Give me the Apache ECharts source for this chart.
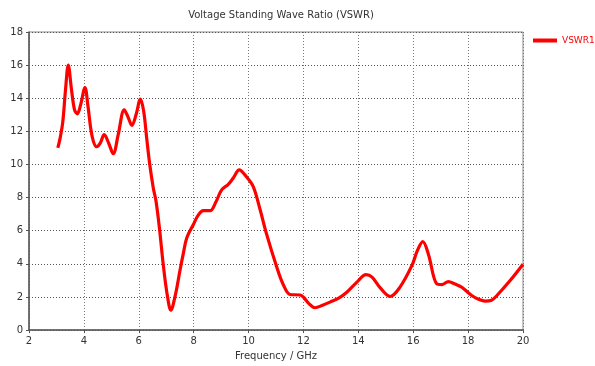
<!DOCTYPE html>
<html>
<head>
<meta charset="utf-8">
<script src="https://cdn.jsdelivr.net/npm/echarts@6/dist/echarts.min.js"></script>
<style>
  html, body { margin: 0; padding: 0; background: #fff; }
  #chart { width: 595px; height: 366px; }
</style>
</head>
<body>
<div id="chart"></div>
<script>
// Frequency sweep (GHz) and measured VSWR
const freqGHz = [
  3.05, 3.13, 3.23, 3.33, 3.43, 3.55, 3.66, 3.76, 3.88, 4.04, 4.15, 4.3, 4.47, 4.6, 4.74, 4.9, 5.07,
  5.25, 5.47, 5.6, 5.75, 5.9, 6.06, 6.18, 6.29, 6.4, 6.53, 6.63, 6.75, 6.89, 7.03, 7.17, 7.33, 7.5,
  7.62, 7.75, 7.99, 8.15, 8.35, 8.6, 8.8, 9.02, 9.26, 9.45, 9.66, 9.9, 10.17, 10.4, 10.66, 11.03,
  11.25, 11.51, 11.88, 12.0, 12.2, 12.42, 12.7, 12.97, 13.3, 13.58, 13.95, 14.28, 14.5, 14.8, 15.16,
  15.5, 15.95, 16.15, 16.35, 16.55, 16.86, 17.05, 17.28, 17.5, 17.77, 18.13, 18.4, 18.62, 18.85,
  19.05, 19.53, 20.0
];
const vswr = [
  11.0, 11.56, 12.56, 14.5, 16.0, 14.5, 13.3, 13.06, 13.6, 14.65, 13.5, 11.7, 11.07, 11.3, 11.8, 11.3, 10.65,
  11.8, 13.3, 12.9, 12.36, 13.0, 13.95, 13.2, 11.56, 10.0, 8.57, 7.77, 6.2, 3.98, 2.2, 1.2, 2.1, 3.59,
  4.6, 5.58, 6.38, 6.9, 7.21, 7.21, 7.7, 8.47, 8.8, 9.2, 9.67, 9.3, 8.67, 7.4, 5.78, 3.79,
  2.8, 2.15, 2.12, 1.99, 1.6, 1.35, 1.5, 1.69, 1.95, 2.29, 2.9, 3.35, 3.2, 2.55, 2.03,
  2.55, 3.89, 4.8, 5.34, 4.6, 2.79, 2.75, 2.93, 2.8, 2.59, 2.09, 1.85, 1.75, 1.8,
  2.09, 2.99, 3.98
];
const xTicks = [2, 4, 6, 8, 10, 12, 14, 16, 18, 20];
const yTicks = [0, 2, 4, 6, 8, 10, 12, 14, 16, 18];

const points = freqGHz.map((f, i) => [f, vswr[i]]);
const labelFont = 'Verdana, "DejaVu Sans", sans-serif';

const chart = echarts.init(document.getElementById('chart'), null, { renderer: 'canvas' });
chart.setOption({
  animation: false,
  backgroundColor: '#ffffff',
  title: {
    text: 'Voltage Standing Wave Ratio (VSWR)',
    left: 276, top: 5, textAlign: 'center',
    textStyle: { fontFamily: labelFont, fontSize: 10, fontWeight: 'normal', color: '#333' }
  },
  legend: {
    left: 533, top: 36, padding: 0, itemWidth: 24, itemHeight: 4, itemGap: 4,
    icon: 'rect',
    data: ['VSWR1'],
    textStyle: { fontFamily: labelFont, fontSize: 9, color: '#ff0000', width: 40, overflow: 'none' }
  },
  grid: {
    left: 29, right: 72, top: 32, bottom: 33,
    show: true, borderColor: '#888', borderWidth: 1
  },
  xAxis: {
    type: 'value', min: xTicks[0], max: xTicks[xTicks.length - 1], interval: 2,
    name: 'Frequency / GHz', nameLocation: 'middle', nameGap: 20,
    nameTextStyle: { fontFamily: labelFont, fontSize: 10, color: '#333' },
    axisLine: { lineStyle: { color: '#555', width: 1.5 } },
    axisTick: { show: true, length: 3, lineStyle: { color: '#555' } },
    axisLabel: { fontFamily: labelFont, fontSize: 10, color: '#333', margin: 6 },
    splitLine: { lineStyle: { type: [1, 2], color: '#777', width: 1 } }
  },
  yAxis: {
    type: 'value', min: yTicks[0], max: yTicks[yTicks.length - 1], interval: 2,
    axisLine: { show: true, lineStyle: { color: '#555', width: 1.5 } },
    axisTick: { show: true, length: 3, lineStyle: { color: '#555' } },
    axisLabel: { fontFamily: labelFont, fontSize: 10, color: '#333', margin: 6 },
    splitLine: { lineStyle: { type: [1, 2], color: '#555', width: 1 } }
  },
  series: [{
    name: 'VSWR1',
    type: 'line',
    data: points,
    smooth: 0.35,
    showSymbol: false,
    symbol: 'none',
    color: '#ff0000',
    lineStyle: { color: '#ff0000', width: 3.2 }
  }]
});
</script>
</body>
</html>
